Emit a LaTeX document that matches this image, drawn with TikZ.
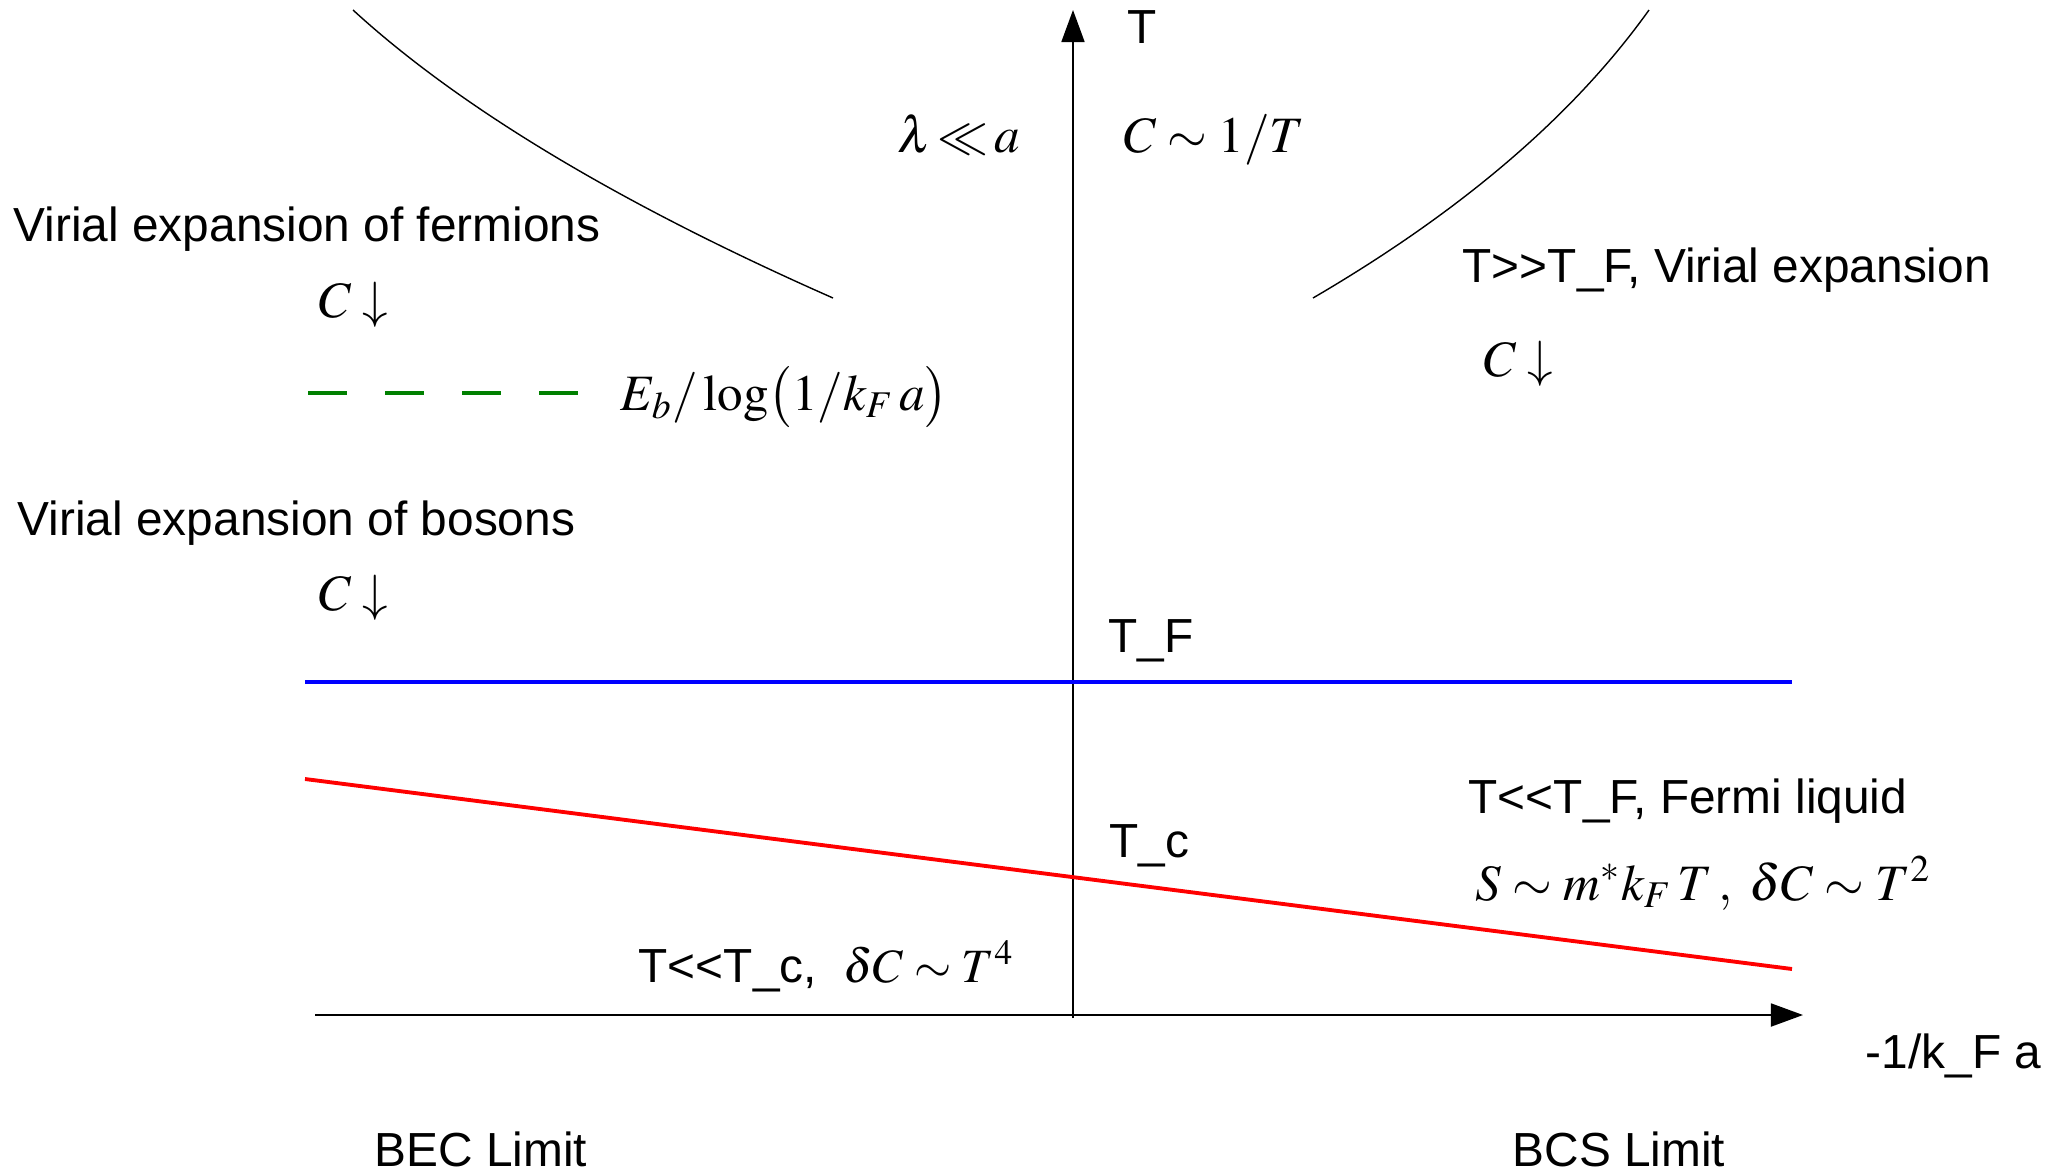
\documentclass[tikz,border=0pt]{standalone}
\usepackage{mathptmx}
\usepackage{fontspec}
\setmainfont{Liberation Sans}
\usetikzlibrary{arrows.meta, positioning}
\definecolor{bcsgreen}{RGB}{0,128,0}
\tikzset{
  axis/.style={line width=0.5pt, -{Triangle[length=3.2mm, width=2.3mm]}},
  txt/.style={anchor=base west, inner sep=0pt, font=\fontsize{13.6}{16}\selectfont},
  mth/.style={anchor=base west, inner sep=0pt, font=\fontsize{14.5}{17}\selectfont},
}

\begin{document}
\begin{tikzpicture}[x=0.01cm, y=-0.01cm]
  \useasboundingbox (0,0) rectangle (2056,1172);
  % Axes
  \coordinate (ybot) at (1073,1018);
  \coordinate (ytop) at (1073,10);
  \coordinate (xleft) at (315,1015);
  \coordinate (xright) at (1803,1015);
  \draw[axis] (ybot) -- (ytop);
  \draw[axis] (xleft) -- (xright);
  \node[txt] (tlab) at (1127,43) {T};
  \node[txt] (klab) at (1865,1068) {-1/k\_F a};
  % Crossover curves at high T
  \draw[line width=0.4pt] (353,10) .. controls (460,108) and (620,204) .. (833,298);
  \draw[line width=0.4pt] (1313,298) .. controls (1462,211) and (1574,115) .. (1649,10);
  \node[mth] (lam) at (897,152) {$\lambda\mkern-2mu\ll\mkern-2mu a$};
  \node[mth] (cinv) at (1123,152) {$C\sim 1/T$};
  % BEC side
  \node[txt] (virf) at (13,241) {Virial expansion of fermions};
  \node[mth] (cdf) at (318,317) {$C\downarrow$};
  \coordinate (gl) at (308,393);
  \coordinate (gr) at (578,393);
  \draw[bcsgreen, line width=1.1pt, dash pattern=on 3.9mm off 3.8mm] (gl) -- (gr);
  \node[mth] (eb) at (620,410) {$E_{b}/\log\bigl(1/k_{F}\,a\bigr)$};
  \node[txt] (virb) at (17,535) {Virial expansion of bosons};
  \node[mth] (cdb) at (318,610) {$C\downarrow$};
  % BCS side
  \node[txt] (vir) at (1462,282) {T>{}>T\_F, Virial expansion};
  \node[mth] (cdr) at (1483,376) {$C\downarrow$};
  % T_F and T_c
  \coordinate (fl) at (305,682);
  \coordinate (fr) at (1792,682);
  \draw[blue, line width=1.1pt] (fl) -- (fr);
  \node[txt] (tf) at (1108,652) {T\_F};
  \coordinate (cl) at (305,779);
  \coordinate (cr) at (1792,969);
  \draw[red, line width=1.1pt] (cl) -- (cr);
  \node[txt] (tc) at (1109,857) {T\_c};
  \node[txt] (fermi) at (1468,813) {T<{}<T\_F, Fermi liquid};
  \node[mth] (sfl) at (1475,900) {$S\sim m^{*}k_{F}\,T\,,\;\delta C\sim T^{2}$};
  \node[txt] (tlow) at (638,982) {T<{}<T\_c,\ \ $\delta C\sim T^{4}$};
  % Limits
  \node[txt] (bec) at (374,1166) {BEC Limit};
  \node[txt] (bcs) at (1512,1166) {BCS Limit};
\end{tikzpicture}
\end{document}
